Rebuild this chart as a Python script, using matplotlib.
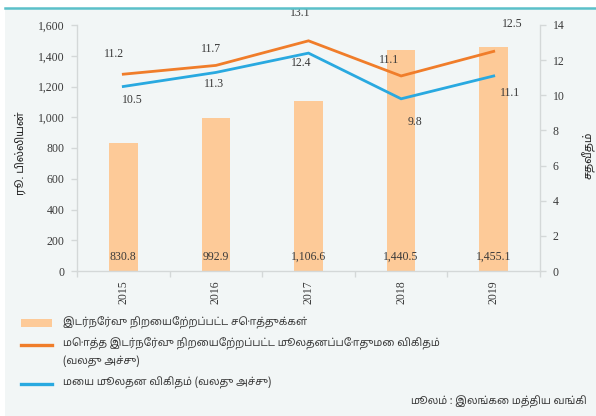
import matplotlib
matplotlib.use("Agg")
import matplotlib.pyplot as plt
from matplotlib.lines import Line2D
from matplotlib.patches import Rectangle

# ---- data ----
years = ["2015", "2016", "2017", "2018", "2019"]
rwa = [830.8, 992.9, 1106.6, 1440.5, 1455.1]
car_total = [11.2, 11.7, 13.1, 11.1, 12.5]
car_core = [10.5, 11.3, 12.4, 9.8, 11.1]
rwa_labels = ["830.8", "992.9", "1,106.6", "1,440.5", "1,455.1"]
left_ticks = [0, 200, 400, 600, 800, 1000, 1200, 1400, 1600]
right_ticks = [0, 2, 4, 6, 8, 10, 12, 14]

ylabel_left = "ரூ. பில்லியன்"
ylabel_right = "சதவீதம்"
leg_bar = "இடர்நேர்வு நிறையேற்றப்பட்ட சொத்துக்கள்"
leg_total_1 = "மொத்த இடர்நேர்வு நிறையேற்றப்பட்ட மூலதனப்போதுமை விகிதம்"
leg_total_2 = "(வலது அச்சு)"
leg_core = "மைய மூலதன விகிதம் (வலது அச்சு)"
source_label = "மூலம்"
source_rest = " : இலங்கை மத்திய வங்கி"

# ---- style ----
W, H = 596, 416
BG = "#f2f6f6"
BAR_C = "#fdca98"
ORANGE = "#f07d2a"
BLUE = "#29a9e0"
TEAL = "#5bc0c9"
AXC = "#d4d8d8"
TXT = "#3a3a3a"
SERIF = ["Liberation Serif", "DejaVu Serif"]
TAMIL = ["Noto Sans Tamil", "Lohit Tamil", "DejaVu Sans"]
NUM_FS = 8.5

# label offsets in pixels (dx, dy up positive)
orange_off = [(-9, 20), (-5, 16), (-8, 28), (-12, 16), (19, 27)]
blue_off = [(9, -14), (-2, -12), (-7, -10), (14, -23), (16, -17)]

px = 0.72  # points per pixel at dpi 100

fig = plt.figure(figsize=(W / 100, H / 100), dpi=100)
fig.patch.set_facecolor("white")

def fx(x):
    return x / W

def fy(y):
    return 1 - y / H

# background panel and top rule
fig.add_artist(Rectangle((fx(5), 0), 1 - fx(5), fy(9), transform=fig.transFigure,
                         facecolor=BG, edgecolor="none", zorder=0))
fig.add_artist(Line2D([fx(5), 1], [fy(8), fy(8)], transform=fig.transFigure,
                      color=TEAL, lw=1.8, zorder=1))

left, right, top, bottom = 77, 540, 25, 271
ax = fig.add_axes([fx(left), fy(bottom), fx(right - left), (bottom - top) / H])
ax.set_facecolor("none")
x = list(range(len(years)))
ax.bar(x, rwa, width=0.31, color=BAR_C, zorder=2)
ax.set_xlim(-0.5, len(years) - 0.5)
ax.set_ylim(0, 1600)
ax.set_yticks(left_ticks)
ax.set_yticklabels([f"{v:,}" for v in left_ticks], fontfamily=SERIF, fontsize=NUM_FS, color=TXT)
ax.set_xticks(x)
ax.set_xticklabels(years, rotation=90, fontfamily=SERIF, fontsize=NUM_FS, color=TXT)
ax.set_xticks([i - 0.5 for i in range(len(years) + 1)], minor=True)
ax.tick_params(axis="x", which="major", length=0, pad=7)
ax.tick_params(axis="x", which="minor", length=4, color=AXC, width=1)
ax.tick_params(axis="y", length=4, color=AXC, width=1, pad=5)
for s in ["top", "right"]:
    ax.spines[s].set_visible(False)
for s in ["left", "bottom"]:
    ax.spines[s].set_color(AXC)
    ax.spines[s].set_linewidth(1)
for xi, lab in zip(x, rwa_labels):
    ax.text(xi, 90, lab, ha="center", va="center", fontfamily=SERIF, fontsize=NUM_FS, color=TXT, zorder=3)

ax2 = ax.twinx()
ax2.set_ylim(0, 14)
ax2.set_yticks(right_ticks)
ax2.set_yticklabels([str(v) for v in right_ticks], fontfamily=SERIF, fontsize=NUM_FS, color=TXT)
ax2.tick_params(axis="y", length=4, color=AXC, width=1, pad=5)
for s in ["top", "left", "bottom"]:
    ax2.spines[s].set_visible(False)
ax2.spines["right"].set_color(AXC)
ax2.spines["right"].set_linewidth(1)
ax2.plot(x, car_total, color=ORANGE, lw=2.0, solid_joinstyle="miter", zorder=4)
ax2.plot(x, car_core, color=BLUE, lw=2.0, solid_joinstyle="miter", zorder=4)
for xi, v, (dx, dy) in zip(x, car_total, orange_off):
    ax2.annotate(f"{v}", (xi, v), xytext=(dx * px, dy * px), textcoords="offset points",
                 ha="center", va="center", fontfamily=SERIF, fontsize=NUM_FS, color=TXT)
for xi, v, (dx, dy) in zip(x, car_core, blue_off):
    ax2.annotate(f"{v}", (xi, v), xytext=(dx * px, dy * px), textcoords="offset points",
                 ha="center", va="center", fontfamily=SERIF, fontsize=NUM_FS, color=TXT)

# axis titles
fig.text(fx(21), fy(153), ylabel_left, rotation=90, ha="center", va="center",
         fontfamily=TAMIL, fontsize=8, fontweight="bold", color="#222222")
fig.text(fx(589), fy(155), ylabel_right, rotation=90, ha="center", va="center",
         fontfamily=TAMIL, fontsize=8, fontweight="bold", color="#222222")

# legend (manual)
fs = 7.5
fig.add_artist(Rectangle((fx(21), fy(326.5)), fx(31), 7.5 / H, transform=fig.transFigure,
                         facecolor=BAR_C, edgecolor="none"))
fig.add_artist(Line2D([fx(21), fx(52)], [fy(345), fy(345)], transform=fig.transFigure,
                      color=ORANGE, lw=2.4))
fig.add_artist(Line2D([fx(21), fx(52)], [fy(384), fy(384)], transform=fig.transFigure,
                      color=BLUE, lw=2.4))
fig.text(fx(63), fy(323), leg_bar, ha="left", va="center", fontfamily=TAMIL, fontsize=fs, color=TXT)
fig.text(fx(63), fy(344), leg_total_1, ha="left", va="center", fontfamily=TAMIL, fontsize=fs, color=TXT)
fig.text(fx(63), fy(362), leg_total_2, ha="left", va="center", fontfamily=TAMIL, fontsize=fs, color=TXT)
fig.text(fx(63), fy(383), leg_core, ha="left", va="center", fontfamily=TAMIL, fontsize=fs, color=TXT)

# source
t = fig.text(fx(587), fy(402), source_rest, ha="right", va="center", fontfamily=TAMIL,
             fontsize=fs, color=TXT)
fig.canvas.draw()
bb = t.get_window_extent()
fig.text(bb.x0 / W, fy(402), source_label, ha="right", va="center", fontfamily=TAMIL,
         fontsize=fs, style="italic", color=TXT)

fig.savefig("out.png", dpi=100, facecolor="white")
